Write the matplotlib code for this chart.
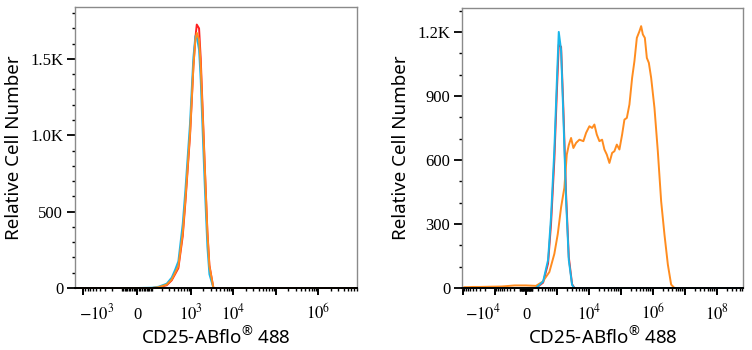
import numpy as np
import matplotlib
matplotlib.use("Agg")
import matplotlib.pyplot as plt
import matplotlib.transforms as mtransforms
from matplotlib.ticker import FixedLocator, MultipleLocator

plt.rcParams["mathtext.fontset"] = "custom"
plt.rcParams["mathtext.rm"] = "Noto Sans"
plt.rcParams["font.family"] = ["Noto Sans", "DejaVu Sans"]

# ---------------- data: histogram traces (fluorescence intensity vs count) ----
# left panel: negative control overlay
x_left = [-1500, -500, 0, 100, 157, 263, 351, 424, 510, 649, 750, 852, 968, 1061,
          1162, 1296, 1396, 1581, 1731, 1860, 1999, 2148, 2310, 2484, 2770, 3440,
          1e4, 1e5, 1e6, 8e6]
red_left = [0, 0, 0, 0, 4, 18, 50, 90, 130, 340, 560, 780, 1000, 1220,
            1450, 1640, 1725, 1700, 1500, 1270, 1040, 810, 590, 370, 150, 0,
            0, 0, 0, 0]
cyan_left = [0, 0, 0, 2, 8, 28, 68, 118, 175, 420, 640, 860, 1080, 1300,
             1510, 1650, 1645, 1560, 1360, 1130, 900, 680, 470, 270, 90, 0,
             0, 0, 0, 0]
orange_left = [0, 0, 0, 0, 5, 22, 55, 98, 142, 360, 579, 797, 1016, 1234,
               1452, 1627, 1671, 1627, 1452, 1234, 1016, 797, 579, 360, 142, 0,
               0, 0, 0, 0]

# right panel: unstimulated controls and stimulated sample
x_right = [-10500, -5000, -1000, 0, 100, 168, 335, 501, 630, 808, 968, 1120,
           1327, 1567, 1905, 2318, 2941, 3472, 5000, 1e5, 1e7, 6e8]
red_right = [0, 0, 0, 0, 0, 0, 25, 115, 300, 600, 910, 1140,
             1130, 840, 440, 145, 18, 0, 0, 0, 0, 0]
cyan_right = [0, 0, 0, 0, 0, 0, 30, 131, 334, 647, 960, 1200,
              1115, 803, 412, 131, 14, 0, 0, 0, 0, 0]
x_orange_right = [-10500, -9000, -7000, -5000, -3000, -1500, -600, -200, 0, 168,
                  325, 555, 808, 1041, 1327, 1683, 2006, 2318, 2735, 3231,
                  3926, 4982, 6635, 8063, 10230, 12400, 14640, 17410, 21000, 25500,
                  30080, 35780, 43130, 52370, 61770, 73420, 88520, 107500, 126900, 150900,
                  181900, 220800, 260600, 309800, 373500, 422300, 477300, 551000, 636200, 734400,
                  866700, 1.10e6, 1.40e6, 1.78e6, 2.26e6, 2.88e6, 3.65e6, 4.63e6, 1e7, 1e8,
                  6e8]
orange_right = [0, 4, 4, 5, 5, 6, 7, 12, 12, 10,
                30, 75, 160, 253, 378, 470, 625, 670, 703, 656,
                680, 695, 688, 727, 758, 750, 766, 719, 688, 695,
                649, 625, 586, 633, 641, 672, 649, 719, 789, 797,
                860, 985, 1063, 1172, 1203, 1227, 1188, 1172, 1078, 1055,
                985, 844, 641, 406, 250, 110, 16, 0, 0, 0,
                0]

# axis settings
left_xlim = (-1580, 8.2e6)
left_ylim = (0, 1840)
left_yticks = [0, 500, 1000, 1500]
left_ylabels = ["0", "500", "1.0K", "1.5K"]
left_majors = [-1e3, 0, 1e3, 1e4, 1e5, 1e6]
left_xlabels = ["$-10^{3}$", "0", "$10^{3}$", "$10^{4}$", "", "$10^{6}$"]

right_xlim = (-10750, 6.4e8)
right_ylim = (0, 1312)
right_yticks = [0, 300, 600, 900, 1200]
right_ylabels = ["0", "300", "600", "900", "1.2K"]
right_majors = [-1e4, -1e3, 0, 1e3, 1e4, 1e5, 1e6, 1e7, 1e8]
right_xlabels = ["$-10^{4}$", "", "0", "", "$10^{4}$", "", "$10^{6}$", "", "$10^{8}$"]

RED = "#ff2020"
CYAN = "#19b6ea"
ORANGE = "#ff8c1f"
FRAME = "#8a8a8a"


def biex(c):
    ln10 = np.log(10)
    fwd = lambda x: np.arcsinh(np.asarray(x, dtype=float) / c) / ln10
    inv = lambda y: c * np.sinh(np.asarray(y, dtype=float) * ln10)
    return fwd, inv


def minor_locs(xlim, max_dec):
    locs = []
    for k in range(1, max_dec + 1):
        for m in range(1, 10):
            v = m * 10 ** k
            if m == 1 and k >= 3:
                continue
            locs += [v, -v]
    return sorted(v for v in locs if xlim[0] < v < xlim[1])


def style_axes(ax, c, xlim, ylim, yticks, ylabels, majors, xlabels, max_dec, neg_shift):
    ax.set_xscale("function", functions=biex(c))
    ax.set_xlim(*xlim)
    ax.set_ylim(*ylim)
    for s in ax.spines.values():
        s.set_color(FRAME)
        s.set_linewidth(1.0)
    ax.spines["bottom"].set_color("black")
    ax.spines["bottom"].set_linewidth(1.4)

    ax.set_yticks(yticks)
    ax.set_yticklabels(ylabels, family="Liberation Serif", fontsize=12)
    ax.yaxis.set_minor_locator(MultipleLocator(100))
    ax.tick_params(axis="y", which="major", length=5.5, width=1.3, color="black", pad=3)
    ax.tick_params(axis="y", which="minor", length=2.5, width=1.0, color="black")

    ax.set_xticks(majors)
    ax.set_xticklabels(xlabels)
    ax.xaxis.set_minor_locator(FixedLocator(minor_locs(xlim, max_dec)))
    ax.tick_params(axis="x", which="major", length=5, width=1.4, color="black", pad=17.5)
    ax.tick_params(axis="x", which="minor", length=2.5, width=1.0, color="black")
    for i, t in enumerate(ax.get_xticklabels()):
        t.set_family("Liberation Serif")
        t.set_fontsize(12)
        t.set_math_fontfamily("stix")
        t.set_verticalalignment("baseline")
        if i == 0:
            shift = mtransforms.ScaledTranslation(neg_shift / 72, 0, ax.figure.dpi_scale_trans)
            t.set_transform(t.get_transform() + shift)

    ax.set_xlabel("CD25-ABflo$^{\\mathrm{®}}$ 488", fontsize=13.5)
    ax.set_ylabel("Relative Cell Number", fontsize=13.5)
    ax.xaxis.set_label_coords(0.5, -0.135)
    ax.yaxis.set_label_coords(-0.185, 0.5)


fig = plt.figure(figsize=(7.52, 3.5), dpi=100)
ax1 = fig.add_axes([75 / 752, 62 / 350, 282 / 752, 281 / 350])
ax2 = fig.add_axes([462 / 752, 62 / 350, 281 / 752, 280 / 350])

lw = 1.4
ax1.plot(x_left, red_left, color=RED, lw=lw, clip_on=False)
ax1.plot(x_left, cyan_left, color=CYAN, lw=lw, clip_on=False)
ax1.plot(x_left, orange_left, color=ORANGE, lw=lw, clip_on=False)

ax2.plot(x_right, red_right, color=RED, lw=lw, clip_on=False)
ax2.plot(x_orange_right, orange_right, color=ORANGE, lw=lw, clip_on=False)
ax2.plot(x_right, cyan_right, color=CYAN, lw=lw, clip_on=False)

style_axes(ax1, 110, left_xlim, left_ylim, left_yticks, left_ylabels,
           left_majors, left_xlabels, 6, 9.5)
style_axes(ax2, 215, right_xlim, right_ylim, right_yticks, right_ylabels,
           right_majors, right_xlabels, 8, 14)

fig.savefig("out.png", dpi=100)
